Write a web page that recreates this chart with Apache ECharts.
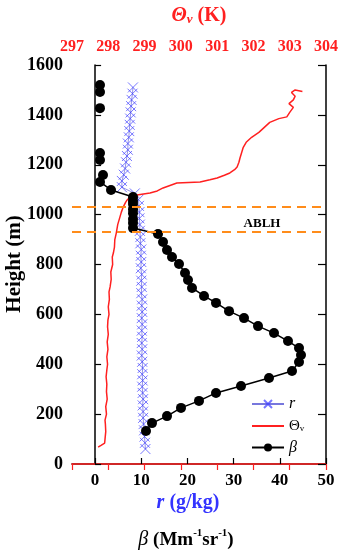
<!DOCTYPE html>
<html><head><meta charset="utf-8">
<script src="https://cdn.jsdelivr.net/npm/echarts@6/dist/echarts.min.js"></script>
<style>html,body{margin:0;padding:0;background:#fff}#c{width:346px;height:550px}</style>
</head><body><div id="c"></div>
<script>
// β (Mm-1 sr-1) profile; null = gap in the line
const betaValue = [1.06,1.06,null,1.06,null,1.06,1.06,null,1.71,1.06,3.45,8.21,8.21,8.21,8.21,8.21,8.21,8.21,8.21,13.62,14.71,15.57,16.65,18.17,19.47,20.12,20.99,23.58,26.18,29.0,32.25,35.28,38.74,41.77,44.16,44.59,44.16,42.64,37.66,31.6,26.18,22.5,18.6,15.57,12.32,11.02];
const betaHeight = [1520,1492,null,1427,null,1247,1219,null,1159,1131,1099,1071,1055,1043,1022,1006,982,966,946,922,890,858,830,802,766,738,706,674,646,613,585,553,525,493,465,437,409,373,345,313,285,253,225,192,164,132];
// r (g/kg) profile
const rHeight = [60,85,110,135,160,185,210,235,260,285,310,335,360,385,410,435,460,485,510,535,560,585,610,635,660,685,710,735,760,785,810,835,860,885,910,935,960,985,1010,1035,1060,1085,1110,1135,1160,1185,1210,1235,1260,1285,1310,1335,1360,1385,1410,1435,1460,1485,1510];
const rValue = [10.9,10.8,10.7,10.6,10.5,10.4,10.4,10.3,10.4,10.3,10.2,10.3,10.2,10.3,10.2,10.1,10.2,10.1,10.2,10.1,10.2,10.1,10.2,10.1,10.2,10.0,10.1,10.0,10.1,9.9,10.0,9.9,10.0,9.8,9.8,9.7,9.7,9.6,9.6,9.5,9.4,8.6,5.8,5.8,6.2,6.5,6.7,6.9,7.1,7.1,7.3,7.4,7.5,7.6,7.7,7.8,7.9,8.1,8.2];
// Θv (K) profile
const thetaH = [68,75,84,100,130,160,176,200,230,260,290,320,350,377,400,430,460,490,520,550,577,600,630,660,690,710,740,770,800,830,846,870,900,926,960,990,1010,1030,1050,1059,1071,1079,1087,1095,1107,1117,1127,1131,1140,1147,1158,1167,1180,1191,1210,1227,1251,1270,1290,1310,1330,1350,1370,1385,1392,1410,1430,1445,1460,1475,1490,1500,1494];
const thetaT = [297.72,297.80,297.90,297.91,297.93,297.92,297.91,297.95,297.93,297.97,297.95,297.96,297.94,297.96,297.98,297.96,297.99,297.97,298.00,297.98,297.99,298.02,298.00,298.03,298.02,298.05,298.08,298.07,298.12,298.11,298.14,298.17,298.18,298.22,298.26,298.32,298.36,298.41,298.48,298.52,298.60,298.79,299.15,299.35,299.51,299.70,299.89,300.53,300.8,301.0,301.2,301.35,301.48,301.55,301.6,301.63,301.68,301.72,301.80,301.95,302.15,302.30,302.45,302.70,302.92,303.0,303.1,302.98,303.1,303.15,303.05,303.15,303.35];
// ABLH bounds (m)
const ablh = [1030, 930];
// tick labels
const bottomTicks = [0,10,20,30,40,50];

const F = 'Liberation Serif';
const chart = echarts.init(document.getElementById('c'));
const betaData = betaValue.map((v,i)=> v===null ? ['-','-'] : [v, betaHeight[i]]);
const rData = rValue.map((v,i)=>[v, rHeight[i]]);
const thetaData = thetaT.map((t,i)=>[t, thetaH[i]]);
const xPath = 'path://M0,0L10,10M10,0L0,10';

chart.setOption({
  animation:false,
  backgroundColor:'#fff',
  grid:{left:72,right:20,top:65,bottom:86},
  xAxis:[
    {type:'value',position:'bottom',min:-5,max:50,
     axisLine:{lineStyle:{color:'#000',width:1.5}},
     axisTick:{inside:true,length:6,customValues:bottomTicks,lineStyle:{color:'#000',width:1.2}},
     axisLabel:{customValues:bottomTicks,color:'#000',fontFamily:F,fontWeight:'bold',fontSize:17,margin:8},
     splitLine:{show:false}},
    {type:'value',position:'top',min:297,max:304,interval:1,
     axisLine:{lineStyle:{color:'#ff2020',width:1.5}},
     axisTick:{inside:true,length:6,lineStyle:{color:'#ff2020',width:1.2}},
     axisLabel:{color:'#ff2020',fontFamily:F,fontWeight:'bold',fontSize:16,margin:10},
     splitLine:{show:false}}
  ],
  yAxis:[
    {type:'value',min:0,max:1600,interval:200,position:'left',
     axisLine:{show:true,lineStyle:{color:'#000',width:1.5}},
     axisTick:{show:true,inside:true,length:6,lineStyle:{color:'#000',width:1.2}},
     axisLabel:{color:'#000',fontFamily:F,fontWeight:'bold',fontSize:18,margin:9,formatter:v=>String(v)},
     splitLine:{show:false}},
    {type:'value',min:0,max:1600,interval:200,position:'right',
     axisLine:{show:true,lineStyle:{color:'#000',width:1.5}},
     axisTick:{show:true,inside:true,length:8,lineStyle:{color:'#000',width:1.2}},
     axisLabel:{show:false},splitLine:{show:false}}
  ],
  legend:{
    orient:'vertical',left:246,top:391,itemWidth:32,itemHeight:10,itemGap:6,
    data:['r',{name:'Θv',icon:'path://M0,0L32,0L32,2L0,2Z'},'β'],
    formatter:function(n){ if(n==='Θv') return '{t|Θ}{s|v}'; return '{i|'+n+'}'; },
    textStyle:{fontFamily:F,color:'#000',fontSize:15,lineHeight:14,
      rich:{t:{fontFamily:F,fontSize:15,color:'#000',lineHeight:14},s:{fontFamily:F,fontSize:9,color:'#000',verticalAlign:'bottom',lineHeight:14,padding:[6,0,0,0]},i:{fontFamily:F,fontSize:16,fontStyle:'italic',color:'#000',lineHeight:14}}}
  },
  series:[
    {name:'r',type:'line',xAxisIndex:0,yAxisIndex:0,data:rData,
     symbol:xPath,symbolSize:10,showSymbol:true,
     lineStyle:{color:'#7777dd',width:0.8},
     itemStyle:{color:'rgba(0,0,0,0)',borderColor:'rgba(60,60,255,0.7)',borderWidth:1},
     z:2},
    {name:'Θv',type:'line',xAxisIndex:1,yAxisIndex:0,data:thetaData,
     symbol:'none',lineStyle:{color:'#ff2020',width:1.5},itemStyle:{color:'#ff2020'},z:3,
     markLine:{silent:true,symbol:'none',label:{show:false},
       lineStyle:{color:'#ff8c1a',width:2,type:[9,6]},
       data:ablh.map(h=>({yAxis:h}))}},
    {name:'β',type:'line',xAxisIndex:0,yAxisIndex:0,data:betaData,connectNulls:false,
     symbol:'circle',symbolSize:10,lineStyle:{color:'#000',width:1.5},itemStyle:{color:'#000'},z:4}
  ],
  graphic:[
    {type:'text',style:{x:199,y:16,align:'center',verticalAlign:'middle',
      text:'{t|Θ}{s|v}{n| (K)}',
      rich:{t:{fontFamily:F,fontSize:20,fontWeight:'bold',fontStyle:'italic',fill:'#ff2020'},
            s:{fontFamily:F,fontSize:13,fontWeight:'bold',fontStyle:'italic',fill:'#ff2020',verticalAlign:'bottom',padding:[8,0,0,0]},
            n:{fontFamily:F,fontSize:20,fontWeight:'bold',fill:'#ff2020'}}}},
    {type:'text',rotation:Math.PI/2,x:15,y:264,style:{x:0,y:0,align:'center',verticalAlign:'middle',
      text:'Height (m)',fontFamily:F,fontSize:21,fontWeight:'bold',fill:'#000'}},
    {type:'text',style:{x:188,y:503,align:'center',verticalAlign:'middle',
      text:'{i|r}{n| (g/kg)}',
      rich:{i:{fontFamily:F,fontSize:20,fontWeight:'bold',fontStyle:'italic',fill:'#3333ff'},
            n:{fontFamily:F,fontSize:20,fontWeight:'bold',fill:'#3333ff'}}}},
    {type:'text',style:{x:186,y:540,align:'center',verticalAlign:'middle',
      text:'{i|β}{n| (Mm}{p|-1}{n|sr}{p|-1}{n|)}',
      rich:{i:{fontFamily:F,fontSize:20,fontStyle:'italic',fill:'#000',lineHeight:24},
            n:{fontFamily:F,fontSize:19,fontWeight:'bold',fill:'#000',lineHeight:24},
            p:{fontFamily:F,fontSize:11,fontWeight:'bold',fill:'#000',verticalAlign:'top',lineHeight:24}}}},
    {type:'text',style:{x:262,y:224,align:'center',verticalAlign:'middle',
      text:'ABLH',fontFamily:F,fontSize:13,fontWeight:'bold',fill:'#000'}}
  ]
});
</script></body></html>
